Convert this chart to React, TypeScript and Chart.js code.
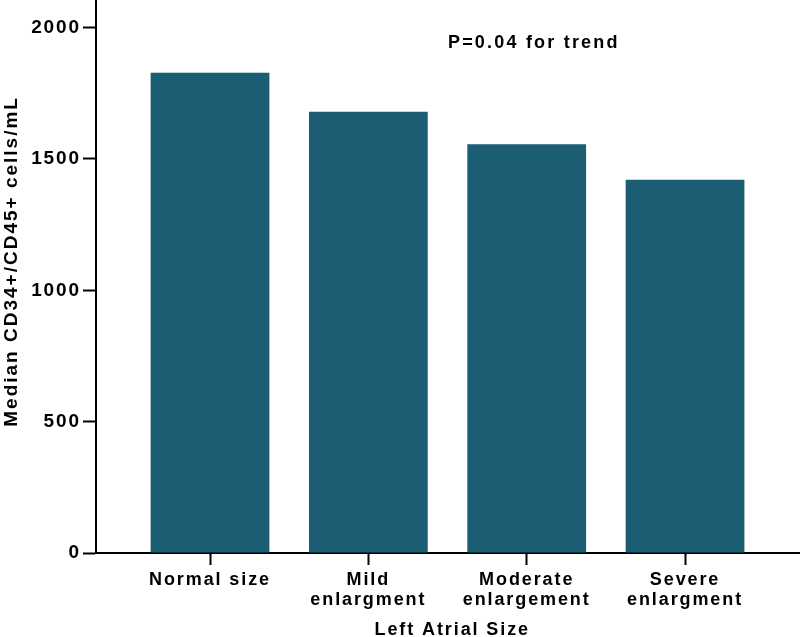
import React, { useEffect, useRef } from "react";
import { Chart, registerables } from "chart.js";

Chart.register(...registerables);

const categories: string[][] = [
  ["Normal size"],
  ["Mild", "enlargment"],
  ["Moderate", "enlargement"],
  ["Severe", "enlargment"],
];
const medianValues: number[] = [1828, 1680, 1556, 1421];
const yTickValues: number[] = [0, 500, 1000, 1500, 2000];
const yAxisTitle = "Median CD34+/CD45+ cells/mL";
const xAxisTitle = "Left Atrial Size";
const annotationText = "P=0.04 for trend";

const FONT = "'Liberation Sans', Arial, Helvetica, sans-serif";
const BAR_COLOR = "#1b5d72";
const SPACING = "1.9px";

export default function App() {
  const canvasRef = useRef<HTMLCanvasElement | null>(null);

  useEffect(() => {
    const canvas = canvasRef.current;
    if (!canvas) return;

    const letterSpacingPlugin = {
      id: "letterSpacing",
      beforeInit(chart: any) {
        chart.ctx.letterSpacing = SPACING;
      },
      beforeLayout(chart: any) {
        chart.ctx.letterSpacing = SPACING;
      },
      beforeDraw(chart: any) {
        chart.ctx.letterSpacing = SPACING;
      },
    };

    const textPlugin = {
      id: "texts",
      afterDraw(chart: any) {
        const ctx = chart.ctx;
        const xs = chart.scales.x;
        const ys = chart.scales.y;
        ctx.save();
        ctx.fillStyle = "#000";
        ctx.textAlign = "center";
        ctx.textBaseline = "middle";

        // annotation
        ctx.letterSpacing = "2.2px";
        ctx.font = `bold 18px ${FONT}`;
        ctx.fillText(annotationText, xs.getPixelForValue(3.045), ys.getPixelForValue(1940));

        // x axis title
        ctx.letterSpacing = SPACING;
        ctx.font = `bold 18px ${FONT}`;
        ctx.fillText(xAxisTitle, xs.getPixelForValue(2.53), 630);

        // y axis title
        ctx.letterSpacing = "2px";
        ctx.font = `bold 19px ${FONT}`;
        ctx.translate(12, ys.getPixelForValue(1110));
        ctx.rotate(-Math.PI / 2);
        ctx.fillText(yAxisTitle, 0, 0);
        ctx.restore();
      },
    };

    const chart = new Chart(canvas, {
      type: "bar",
      data: {
        datasets: [
          {
            data: medianValues.map((v, i) => ({ x: i + 1, y: v })),
            backgroundColor: BAR_COLOR,
            borderWidth: 0,
            barPercentage: 0.75,
            categoryPercentage: 1,
          },
        ],
      },
      options: {
        responsive: false,
        animation: false,
        maintainAspectRatio: false,
        layout: { padding: 0 },
        plugins: {
          legend: { display: false },
          tooltip: { enabled: false },
          title: { display: false },
        },
        scales: {
          x: {
            type: "linear",
            offset: false,
            min: 0.28,
            max: 4.726,
            afterBuildTicks(scale: any) {
              scale.ticks = categories.map((_, i) => ({ value: i + 1 }));
            },
            afterFit(scale: any) {
              scale.height = 84;
              scale.paddingLeft = 0;
              scale.paddingRight = 0;
            },
            grid: {
              offset: false,
              drawOnChartArea: false,
              drawTicks: true,
              tickLength: 12,
              tickWidth: 2,
              tickColor: "#000",
            },
            border: { display: true, color: "#000", width: 2 },
            ticks: {
              autoSkip: false,
              maxRotation: 0,
              padding: 5,
              color: "#000",
              font: { family: FONT, size: 18, weight: "bold", lineHeight: 1.1 },
              callback: (value: any) => categories[Number(value) - 1] ?? "",
            },
            title: { display: false },
          },
          y: {
            type: "linear",
            min: 0,
            max: 2105,
            afterBuildTicks(scale: any) {
              scale.ticks = yTickValues.map((v) => ({ value: v }));
            },
            afterFit(scale: any) {
              scale.width = 96;
              scale.paddingTop = 0;
              scale.paddingBottom = 0;
            },
            grid: {
              drawOnChartArea: false,
              drawTicks: true,
              tickLength: 13,
              tickWidth: 2,
              tickColor: "#000",
            },
            border: { display: true, color: "#000", width: 2 },
            ticks: {
              padding: 2,
              color: "#000",
              font: { family: FONT, size: 19, weight: "bold" },
              callback: (value: any) => String(value),
            },
            title: { display: false },
          },
        },
      },
      plugins: [letterSpacingPlugin, textPlugin],
    } as any);

    return () => {
      chart.destroy();
    };
  }, []);

  return (
    <div style={{ position: "fixed", left: 0, top: 0, width: 800, height: 637, background: "#fff" }}>
      <canvas ref={canvasRef} width={800} height={637} style={{ display: "block", width: 800, height: 637 }} />
    </div>
  );
}
